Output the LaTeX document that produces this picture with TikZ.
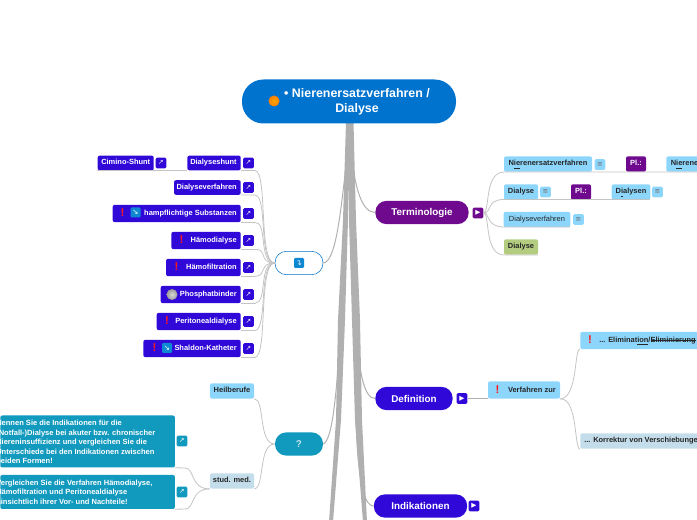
\documentclass[tikz,border=0pt]{standalone}
\usepackage{fontspec}
\setmainfont{Liberation Sans}
\newfontfamily\symfont{DejaVu Sans}
\usetikzlibrary{positioning}
\newcommand{\strikeword}[1]{\setbox0\hbox{#1}\rlap{\rule[.55ex]{\wd0}{.3pt}}#1}
\definecolor{rootblue}{HTML}{0073CF}
\definecolor{mainblue}{HTML}{3008D8}
\definecolor{mainviolet}{HTML}{6F0A8E}
\definecolor{quizteal}{HTML}{1299BE}
\definecolor{lightblue}{HTML}{8DD6FB}
\definecolor{paleblue}{HTML}{C4DDEB}
\definecolor{palegreen}{HTML}{B4CC80}
\definecolor{linegrey}{HTML}{B0B0B0}
\tikzset{
  rootnode/.style={fill=rootblue, rounded corners=16pt, minimum width=160.5pt, minimum height=33pt},
  mainnode/.style={fill=mainblue, rounded corners=8.5pt, minimum height=17.5pt, inner sep=0pt, text=white, font=\bfseries\fontsize{7.4}{9}\selectfont},
  leaf/.style={fill=mainblue, rounded corners=1.5pt, minimum height=11pt, inner sep=0pt, text=white, text height=4.2pt, text depth=1.2pt, font=\bfseries\fontsize{5.6}{6.5}\selectfont},
  topic/.style={fill=lightblue, rounded corners=1.5pt, minimum height=11.5pt, inner sep=0pt, text=black!85, text height=4.2pt, text depth=1.2pt, font=\bfseries\fontsize{5.6}{6.5}\selectfont},
  quiz/.style={fill=quizteal, rounded corners=1.5pt, inner sep=0pt},
  tag/.style={rounded corners=1pt, minimum size=8pt, inner sep=0pt, text=white, font=\symfont\fontsize{5}{5}\selectfont},
  plain/.style={inner sep=0pt, text height=4.2pt, text depth=1.2pt, font=\bfseries\fontsize{5.6}{6.5}\selectfont},
  quiztext/.style={inner sep=0pt, anchor=west, text=white, align=left, font=\bfseries\fontsize{5.65}{7.2}\selectfont},
  warnmark/.style={inner sep=0pt, text=red!90, font=\bfseries\fontsize{8.5}{8.5}\selectfont},
  iconbox/.style={fill=cyan!70!blue, rounded corners=.8pt, minimum size=7.5pt, inner sep=0pt, text=white, font=\symfont\fontsize{5.5}{5.5}\selectfont},
  conn/.style={draw=linegrey, line width=.75pt},
  thinconn/.style={draw=linegrey!75, line width=.6pt}
}
\begin{document}
\begin{tikzpicture}[x=.75pt, y=-.75pt]
\path[use as bounding box, clip] (0,0) rectangle (697,520);
% bundle of connectors from the root
\fill[linegrey] (346,122) -- (350.5,122) -- (348,220) -- (345,320) -- (341,420) -- (333,522) -- (329,522) -- (336,420) -- (338,320) -- (343,220) -- cycle;
\fill[linegrey] (349,122) -- (353.5,122) -- (356,220) -- (360,320) -- (362,420) -- (367,522) -- (363,522) -- (355,420) -- (352,320) -- (349,220) -- cycle;
% root
\node[rootnode] (root) at (349,101.5) {};
\node[inner sep=0pt, text=white, align=center, font=\bfseries\fontsize{9.3}{11.5}\selectfont] (roottext) at (357,102) {• Nierenersatzverfahren /\\Dialyse};
\shade[inner color=orange!70!yellow, outer color=orange] (274,101) circle (5.5);
% right main nodes
\node[mainnode, fill=mainviolet, minimum width=70pt] (term) at (422,212.5) {Terminologie};
\node[mainnode, minimum width=58pt] (defn) at (414,398.5) {Definition};
\node[mainnode, minimum width=70pt] (indik) at (420.5,506) {Indikationen};
\node[tag, fill=mainviolet] (termtag) at (478,213) {▶};
\node[tag, fill=mainblue] (defntag) at (462,398.5) {▶};
\node[tag, fill=mainblue] (indiktag) at (474,506) {▶};
\draw[conn] (351,150) .. controls (355,190) and (362,212) .. (term.west);
\draw[conn] (354,300) .. controls (358,375) and (364,398) .. (defn.west);
\draw[conn] (356,420) .. controls (358,490) and (366,506) .. (indik.west);
% Terminologie
\node[topic, minimum width=66pt] (niersatz) at (548,164) {N\underline{ie}renersatzverfahren};
\node[tag, fill=lightblue, text=black!60] (niersatztag) at (600,164.5) {≡};
\node[leaf, fill=mainviolet, minimum width=15pt, minimum height=11.5pt] (pla) at (636,164) {Pl.:};
\node[topic, anchor=west, minimum width=66pt] (nierene) at (666,164) {N\underline{ie}renersatzverfahren};
\node[topic, minimum width=25.5pt] (dialyse) at (521,192) {Dialyse};
\node[tag, fill=lightblue, text=black!60] (dialysetag) at (545.5,192) {≡};
\node[leaf, fill=mainviolet, minimum width=15pt, minimum height=11.5pt] (plb) at (581,192) {Pl.:};
\node[topic, minimum width=29pt] (dialysen) at (631,192) {D\underline{i}alysen};
\node[tag, fill=lightblue, text=black!60] (dialysentag) at (657.5,192) {≡};
\node[topic, minimum width=50pt, font=\fontsize{5.6}{6.5}\selectfont] (dverf) at (537,219.5) {Dialyseverfahren};
\node[tag, fill=lightblue, text=black!60] (dverftag) at (578.5,219.5) {≡};
\node[topic, fill=palegreen, minimum width=25.5pt] (dialgreen) at (521,247) {Dialyse};
\draw[thinconn] (termtag.east) .. controls (490,213) and (484,172) .. (504,172) -- (697,172);
\draw[thinconn] (termtag.east) .. controls (492,213) and (486,199.5) .. (504,199.5) -- (650,199.5);
\draw[thinconn] (termtag.east) .. controls (490,213) and (486,227) .. (504,227) -- (570,227);
\draw[thinconn] (termtag.east) .. controls (490,213) and (484,255) .. (504,255) -- (538,255);
% Definition
\node[topic, minimum width=54pt, minimum height=13pt] (verf) at (524,390) {};
\node[plain, anchor=east, text=black!85] (verftext) at (556,391) {Verfahren zur};
\node[warnmark] (verfwarn) at (497.5,390) {!};
\node[topic, anchor=west, minimum width=100pt, minimum height=13pt] (elim) at (580,340.5) {};
\node[plain, anchor=west, text=black!85] (elimtext) at (599,340.5) {... Eliminat\underline{ion}/\strikeword{Eliminierung}};
\node[warnmark] (elimwarn) at (590,340) {!};
\node[topic, fill=paleblue, anchor=west, minimum width=100pt] (korr) at (580,441) {};
\node[plain, anchor=west, text=black!85] (korrtext) at (584,441) {... Korrektur von Verschiebungen};
\draw[conn] (defntag.east) -- (verf.west |- defntag.east);
\draw[thinconn] (verf.south east) .. controls (578,398) and (574,349) .. (580,349);
\draw[thinconn] (verf.south east) .. controls (578,398) and (574,449) .. (580,449);
% left group
\node[mainnode, fill=white, draw=rootblue, minimum width=36pt] (grp) at (299,263) {};
\node[iconbox] (grpicon) at (299,263) {↴};
\node[mainnode, fill=quizteal, minimum width=36pt, text=white!75!quizteal] (ask) at (299,444) {?};
\draw[conn] (grp.east) .. controls (335,262) and (340,220) .. (346,165);
\draw[conn] (ask.east) .. controls (332,440) and (336,400) .. (340,340);
\foreach \nm/\txt/\wid/\hh/\yy in {shunt/Dialyseshunt/40/11/163, verf2/Dialyseverfahren/50/11/187.5, subst/{hampflichtige Substanzen}/96/13/213.5, haemo/Hämodialyse/52/13/240.5, filt/Hämofiltration/56/13/267.5, phos/Phosphatbinder/60/13/294.5, peri/Peritonealdialyse/63/13/321.5, shal/Shaldon-Katheter/73/13/348.5}{
  \node[leaf, anchor=east, minimum width=\wid pt, minimum height=\hh pt] (\nm) at (241,\yy) {};
  \node[plain, anchor=east, text=white] (\nm text) at (237,\yy) {\txt};
  \node[tag, fill=mainblue] (\nm tag) at (248.5,\yy) {↗};
  \draw[thinconn] (\nm.south east) -- ++(14,0) .. controls (268,\yy+8) and (258,263) .. (grp.west);
}
\node[warnmark] (substwarn) at (122.5,212.5) {!};
\node[iconbox] (substicon) at (135.5,212.5) {↘};
\node[warnmark] (haemowarn) at (181.5,240) {!};
\node[warnmark] (filtwarn) at (176.5,267) {!};
\shade[inner color=gray!30, outer color=gray!80] (172,294.5) circle (5.5);
\node[warnmark] (periwarn) at (167,321) {!};
\node[warnmark] (shalwarn) at (154.5,348) {!};
\node[iconbox] (shalicon) at (167,348) {↘};
\node[leaf, anchor=east, minimum width=42pt] (cim) at (154,163) {Cimino-Shunt};
\node[tag, fill=mainblue] (cimtag) at (161,163) {↗};
\draw[thinconn] (cim.south west) -- (shunt.south west);
% question group
\node[topic, minimum width=33pt] (heil) at (232,391) {Heilberufe};
\node[topic, fill=paleblue, minimum width=33pt] (stud) at (232,481) {stud. med.};
\draw[thinconn] (heil.south east) .. controls (265,398) and (258,444) .. (ask.west);
\draw[thinconn] (stud.south east) .. controls (265,488) and (258,444) .. (ask.west);
\node[quiz, anchor=west, minimum width=131pt, minimum height=39pt] (q1) at (0,441.5) {};
\node[quiz, anchor=west, minimum width=131pt, minimum height=25.5pt] (q2) at (0,492) {};
\node[quiztext] (q1text) at (-4,442) {Nennen Sie die Indikationen für die\\(Notfall-)Dialyse bei akuter bzw. chronischer\\Niereninsuffizienz und vergleichen Sie die\\Unterschiede bei den Indikationen zwischen\\beiden Formen!};
\node[quiztext] (q2text) at (-4,492) {Vergleichen Sie die Verfahren Hämodialyse,\\Hämofiltration und Peritonealdialyse\\hinsichtlich ihrer Vor- und Nachteile!};
\node[tag, fill=quizteal] (q1tag) at (182,441) {↗};
\node[tag, fill=quizteal] (q2tag) at (182,492) {↗};
\draw[thinconn] (q1.south east) -- (185,468) .. controls (195,468) and (190,489) .. (stud.south west);
\draw[thinconn] (q2.south east) -- (185,509) .. controls (195,509) and (190,489) .. (stud.south west);
\end{tikzpicture}
\end{document}
